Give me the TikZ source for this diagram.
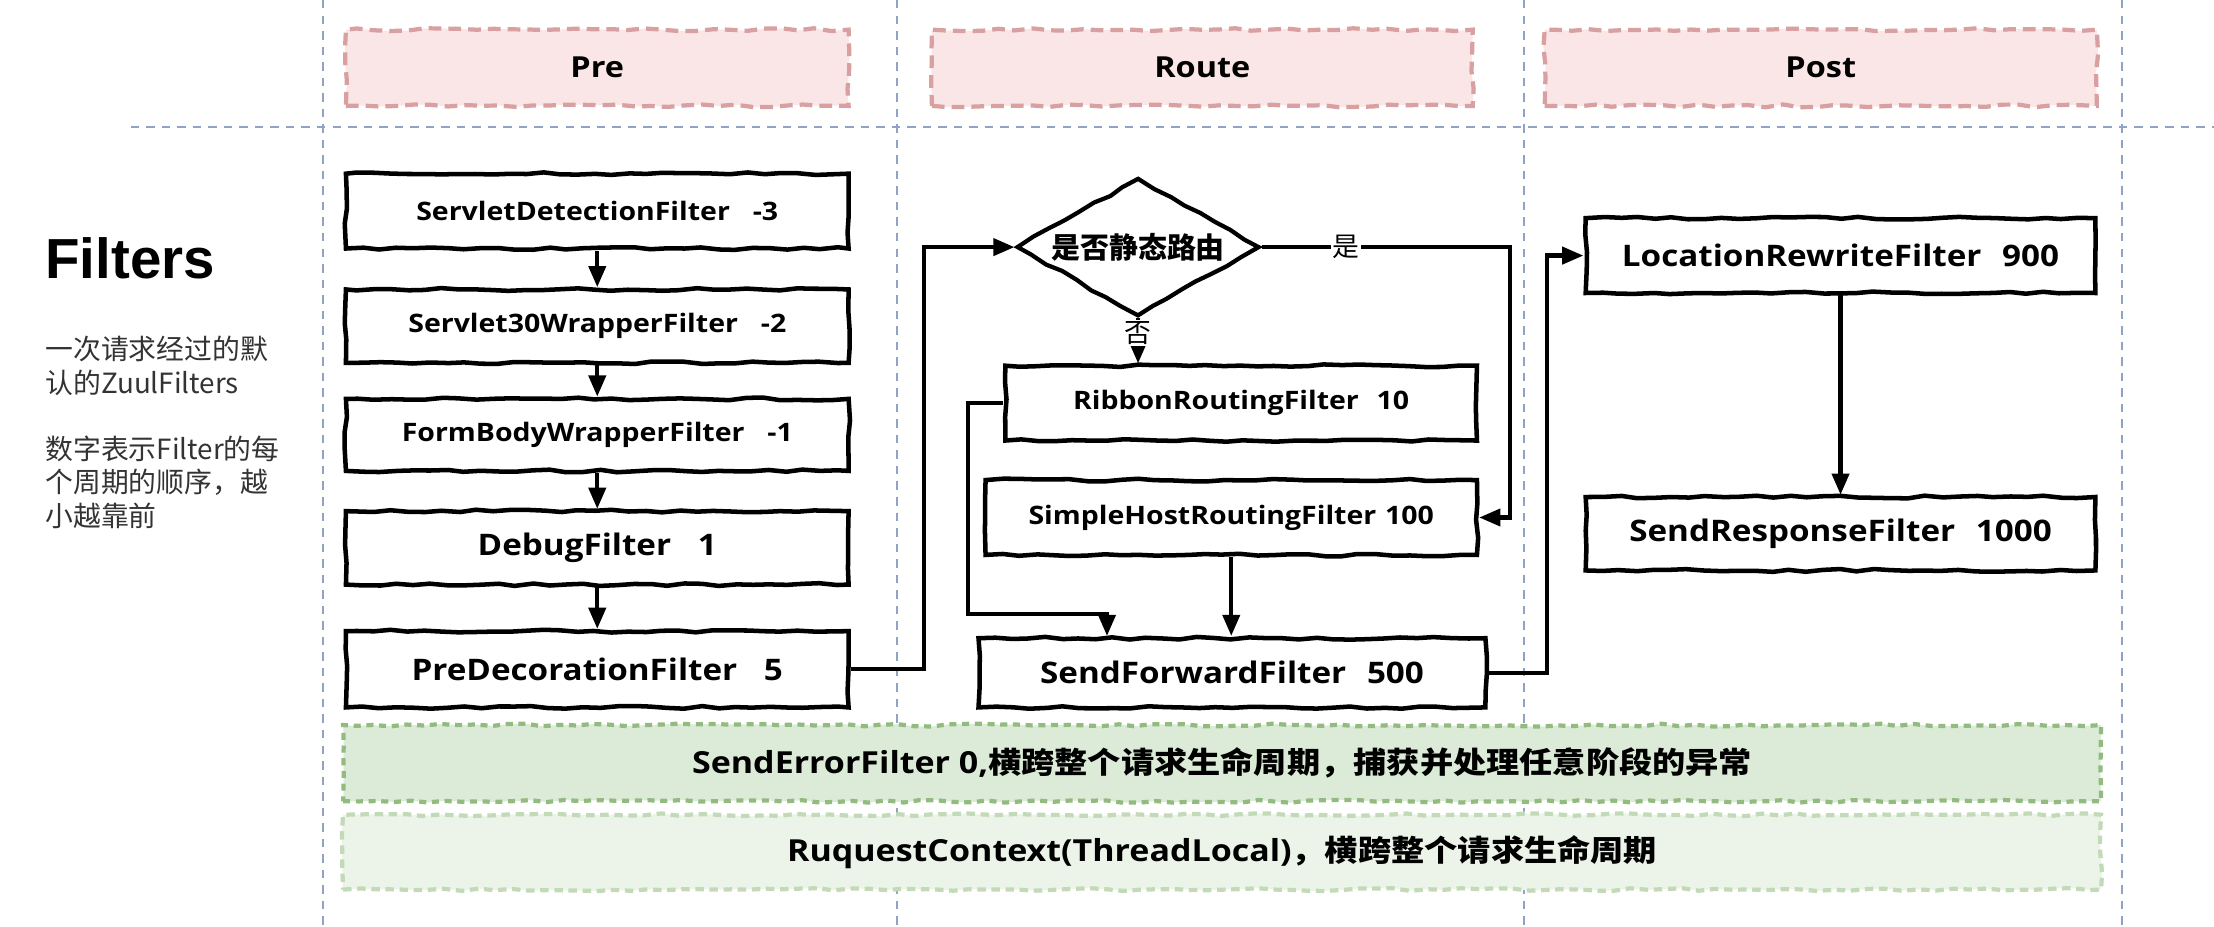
\documentclass[tikz,border=0pt]{standalone}
\usepackage{fontspec}
\setmainfont{Open Sans}[FakeStretch=1.12]
\newfontfamily\cjk{Noto Sans CJK SC}
\newfontfamily\cjkw{Noto Sans CJK SC}[FakeStretch=1.12]
\newfontfamily\arialf{Liberation Sans}
\usetikzlibrary{arrows.meta,shapes.geometric,decorations.pathmorphing}
\definecolor{gridc}{HTML}{8FA3C5}
\definecolor{hdrfill}{HTML}{FAE6E6}
\definecolor{hdrline}{HTML}{D8A0A0}
\definecolor{gafill}{HTML}{DBEBD7}
\definecolor{galine}{HTML}{93BB80}
\definecolor{gbfill}{HTML}{ECF4EA}
\definecolor{gbline}{HTML}{C2DAB8}
\definecolor{sidec}{HTML}{333333}
\begin{document}
\begin{tikzpicture}[x=1pt,y=-1pt,
  sketch/.style={decorate,decoration={random steps,segment length=12pt,amplitude=1pt}},
  box/.style={sketch,draw=black,line width=3.2pt,fill=white,inner sep=0pt,minimum height=52pt},
  fs/.style={font=\bfseries\fontsize{18}{20}\selectfont},
  fl/.style={font=\bfseries\fontsize{21}{23}\selectfont},
  hdr/.style={sketch,draw=hdrline,fill=hdrfill,line width=3pt,dash pattern=on 9pt off 5pt,minimum height=54pt,inner sep=0pt,font=\bfseries\fontsize{20.5}{22}\selectfont},
  bara/.style={sketch,draw=galine,fill=gafill,line width=3pt,dash pattern=on 5pt off 4pt,minimum width=1245pt,minimum height=54pt,inner sep=0pt},
  barb/.style={sketch,draw=gbline,fill=gbfill,line width=3pt,dash pattern=on 6pt off 4pt,minimum width=1245pt,minimum height=53pt,inner sep=0pt},
  grid/.style={draw=gridc,line width=1.3pt,dash pattern=on 6pt off 5pt},
  arr/.style={draw=black,line width=3pt,-{Triangle[length=15pt,width=12pt]}},
  lbl/.style={fill=white,inner sep=1pt,font=\cjk\fontsize{19}{21}\selectfont},
  side/.style={anchor=west,inner sep=0pt,text=sidec,font=\cjk\fontsize{19.7}{22}\selectfont}]
\pgfmathsetseed{7}
\useasboundingbox (0,0) rectangle (1568,656);
% guide lines
\draw[grid] (92.5,89.7) -- (1568,89.7);
\foreach \gx in {228.5,635,1079.5,1503} \draw[grid] (\gx,0) -- (\gx,656);
% headers
\node[hdr,minimum width=356pt] (hpre) at (423,48) {Pre};
\node[hdr,minimum width=383pt] (hroute) at (851.5,48) {Route};
\node[hdr,minimum width=391pt] (hpost) at (1289.5,48) {Post};
% left text
\node[anchor=west,inner sep=0pt,font=\arialf\bfseries\fontsize{40}{44}\selectfont] (title) at (32,183) {Filters};
\node[side] (s1) at (32,247) {一次请求经过的默};
\node[side] (s2) at (32,271.5) {认的ZuulFilters};
\node[side] (s3) at (32,318) {数字表示Filter的每};
\node[side] (s4) at (32,341.5) {个周期的顺序，越};
\node[side] (s5) at (32,365) {小越靠前};
% pre column
\node[box,fs,minimum width=356pt,minimum height=53pt] (b1) at (423,149.5) {ServletDetectionFilter\hspace{0.9em}-3};
\node[box,fs,minimum width=356pt] (b2) at (423,231) {Servlet30WrapperFilter\hspace{0.9em}-2};
\node[box,fs,minimum width=356pt,minimum height=51pt] (b3) at (423,308) {FormBodyWrapperFilter\hspace{0.9em}-1};
\node[box,fl,minimum width=356pt] (b4) at (423,388) {DebugFilter\hspace{0.9em}1};
\node[box,fl,minimum width=356pt,minimum height=54pt] (b5) at (423,474) {PreDecorationFilter\hspace{0.9em}5};
\draw[arr] (b1.south) -- (b2.north);
\draw[arr] (b2.south) -- (b3.north);
\draw[arr] (b3.south) -- (b4.north);
\draw[arr] (b4.south) -- (b5.north);
% route column
\node[sketch,diamond,shape aspect=1.755,draw=black,line width=3pt,fill=white,inner sep=0pt,minimum width=172pt,minimum height=98pt,font=\cjk\bfseries\fontsize{20.5}{22}\selectfont] (dia) at (806,175) {是否静态路由};
\node[box,fs,minimum width=334pt,minimum height=53pt] (rib) at (879,285.5) {RibbonRoutingFilter\hspace{0.7em}10};
\node[box,fs,minimum width=348pt,minimum height=53pt] (sim) at (872,366.5) {SimpleHostRoutingFilter\hspace{0.35em}100};
\node[box,fl,minimum width=359pt,minimum height=49pt] (sf) at (872.5,476.5) {SendForwardFilter\hspace{0.7em}500};
\coordinate (j1) at (784,435);
\draw[arr] (b5.east) -- ++(52,0) |- (dia.west);
\draw[arr] (dia.south) -- node[lbl,pos=0.33] {否} (dia.south |- rib.north);
\draw[arr] (dia.east) -- node[lbl,pos=0.34] {是} ++(176,0) |- (sim.east);
\draw[arr] (rib.west) -- ++(-25,0) |- (j1) -- (j1 |- sf.north);
\draw[arr] (sim.south) -- (sim.south |- sf.north);
% post column
\node[box,fl,minimum width=361pt,minimum height=53pt] (loc) at (1303.5,181) {LocationRewriteFilter\hspace{0.7em}900};
\node[box,fl,minimum width=361pt,minimum height=52pt] (sr) at (1303.5,378) {SendResponseFilter\hspace{0.7em}1000};
\draw[arr] (sf.east) -- ++(42,0) |- (loc.west);
\draw[arr] (loc.south) -- (sr.north);
% bottom bars
\node[bara] (err) at (865.5,540.5) {\bfseries\fontsize{21.5}{23}\selectfont SendErrorFilter 0,{\cjkw\fontsize{21}{23}\selectfont 横跨整个请求生命周期，捕获并处理任意阶段的异常}};
\node[barb] (ctx) at (865.5,603.5) {\bfseries\fontsize{21.5}{23}\selectfont RuquestContext(ThreadLocal){\cjkw\fontsize{21}{23}\selectfont ，横跨整个请求生命周期}};
\end{tikzpicture}
\end{document}
